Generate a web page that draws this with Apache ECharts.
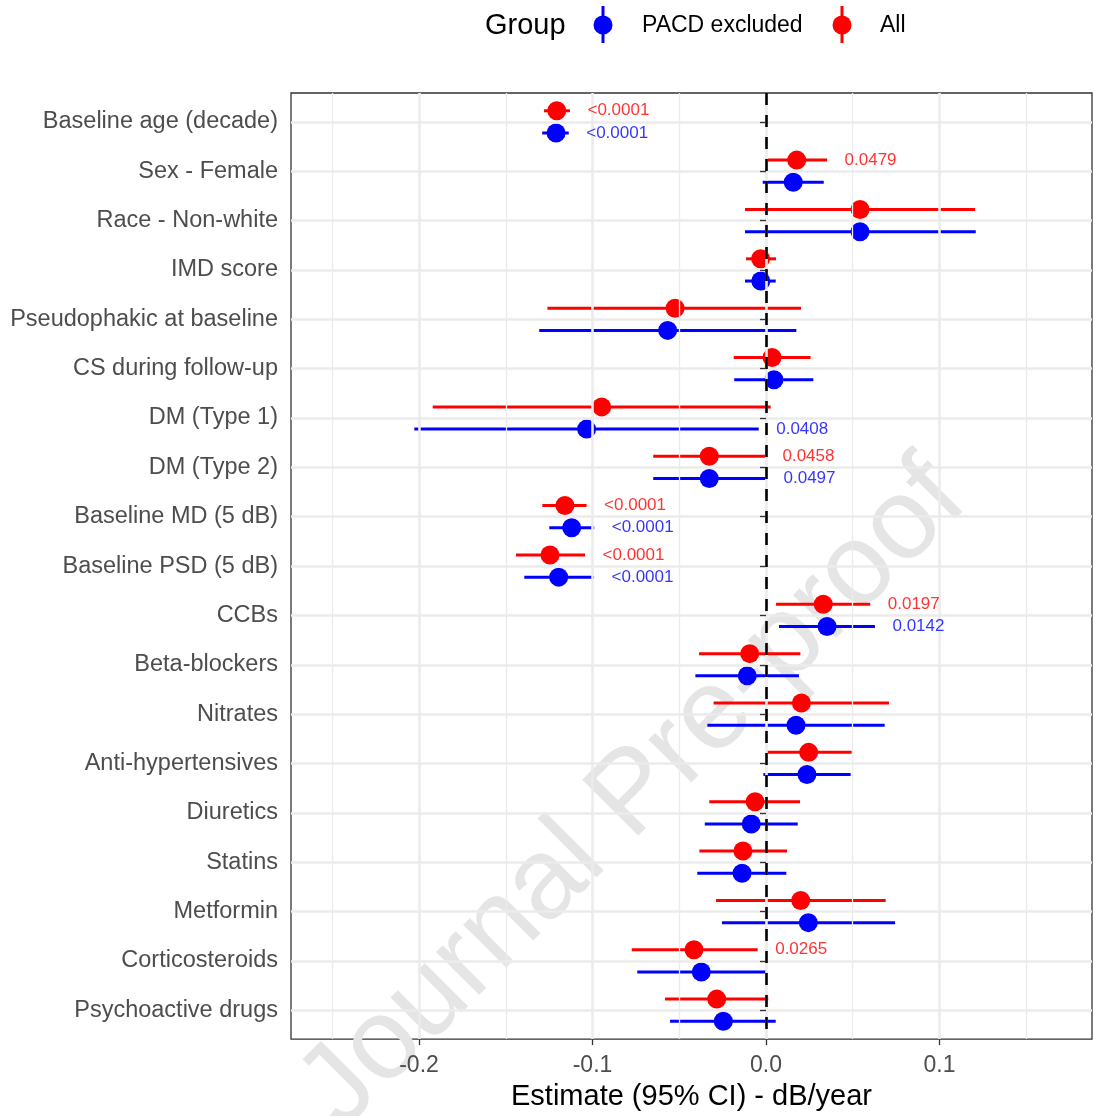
<!DOCTYPE html>
<html>
<head>
<meta charset="utf-8">
<script src="https://cdn.jsdelivr.net/npm/echarts@6/dist/echarts.min.js"></script>
<style>
  html, body { margin: 0; padding: 0; background: #fff; }
  #chart { width: 1093px; height: 1116px; }
</style>
</head>
<body>
<div id="chart"></div>
<script>
// ---- Data ----
const categories = [
  'Baseline age (decade)', 'Sex - Female', 'Race - Non-white', 'IMD score',
  'Pseudophakic at baseline', 'CS during follow-up', 'DM (Type 1)', 'DM (Type 2)',
  'Baseline MD (5 dB)', 'Baseline PSD (5 dB)', 'CCBs', 'Beta-blockers', 'Nitrates',
  'Anti-hypertensives', 'Diuretics', 'Statins', 'Metformin', 'Corticosteroids',
  'Psychoactive drugs'
];
// Group "All" (red)
const allEst = [-0.1206, 0.0177, 0.0542, -0.0031, -0.0524, 0.0035, -0.0947, -0.0327, -0.1159, -0.1245, 0.0330, -0.0094, 0.0204, 0.0246, -0.0063, -0.0133, 0.0200, -0.0415, -0.0284];
const allLo  = [-0.1280, 0.0008, -0.0121, -0.0115, -0.1260, -0.0186, -0.1921, -0.0650, -0.1289, -0.1441, 0.0058, -0.0386, -0.0302, 0.0000, -0.0327, -0.0384, -0.0288, -0.0774, -0.0582];
const allHi  = [-0.1130, 0.0352, 0.1205, 0.0058, 0.0202, 0.0257, 0.0027, -0.0006, -0.1034, -0.1043, 0.0601, 0.0198, 0.0709, 0.0494, 0.0196, 0.0121, 0.0690, -0.0048, 0.0013];
const allP   = ['<0.0001', '0.0479', '', '', '', '', '', '0.0458', '<0.0001', '<0.0001', '0.0197', '', '', '', '', '', '', '0.0265', ''];
// Group "PACD excluded" (blue)
const pacdEst = [-0.1210, 0.0157, 0.0542, -0.0030, -0.0567, 0.0046, -0.1034, -0.0327, -0.1120, -0.1195, 0.0352, -0.0108, 0.0173, 0.0236, -0.0085, -0.0138, 0.0244, -0.0373, -0.0246];
const pacdLo  = [-0.1290, -0.0019, -0.0121, -0.0121, -0.1307, -0.0183, -0.2027, -0.0650, -0.1249, -0.1393, 0.0075, -0.0407, -0.0338, -0.0015, -0.0353, -0.0396, -0.0254, -0.0742, -0.0553];
const pacdHi  = [-0.1137, 0.0333, 0.1209, 0.0056, 0.0175, 0.0273, -0.0042, 0.0000, -0.0990, -0.0991, 0.0628, 0.0190, 0.0684, 0.0488, 0.0183, 0.0117, 0.0744, 0.0000, 0.0056];
const pacdP   = ['<0.0001', '', '', '', '', '', '0.0408', '0.0497', '<0.0001', '<0.0001', '0.0142', '', '', '', '', '', '', '', ''];

const xTicks = [-0.2, -0.1, 0, 0.1];
const xMinorTicks = [-0.25, -0.15, -0.05, 0.05, 0.15];
const legendNames = ['PACD excluded', 'All'];

// ---- Build options ----
const FONT = 'Liberation Sans, Arial, Helvetica, sans-serif';
const RED = '#FF0000', BLUE = '#0000FF';
const DODGE = 0.225;
const rowPos = categories.map((_, i) => i + 1);

function pts(est, off) { return est.map((v, i) => [v, rowPos[i] + off]); }
function bars(lo, hi, off) { return lo.map((v, i) => [v, hi[i], rowPos[i] + off]); }
function labs(hi, p, off) {
  const out = [];
  p.forEach((t, i) => { if (t) out.push([hi[i], rowPos[i] + off, t]); });
  return out;
}

function errRender(color) {
  return function (params, api) {
    const y = api.value(2);
    const a = api.coord([api.value(0), y]);
    const b = api.coord([api.value(1), y]);
    return {
      type: 'line',
      shape: { x1: a[0], y1: a[1], x2: b[0], y2: b[1] },
      style: { stroke: color, lineWidth: 3, lineCap: 'butt' }
    };
  };
}

const gridLines = [];
xTicks.forEach(v => gridLines.push({ xAxis: v, lineStyle: { color: '#EBEBEB', width: 2.6, type: 'solid' } }));
xMinorTicks.forEach(v => gridLines.push({ xAxis: v, lineStyle: { color: '#EBEBEB', width: 1.3, type: 'solid' } }));
rowPos.forEach(v => gridLines.push({ yAxis: v, lineStyle: { color: '#EBEBEB', width: 2.6, type: 'solid' } }));

// Legend (drawn as graphic keys: point-range glyph + text)
function legendKey(cx, textX, color, name) {
  return [
    { type: 'line', z: 10, shape: { x1: cx, y1: 6, x2: cx, y2: 43 }, style: { stroke: color, lineWidth: 3 } },
    { type: 'circle', z: 10, shape: { cx: cx, cy: 25, r: 9.5 }, style: { fill: color } },
    { type: 'text', z: 10, x: textX, y: 26, style: { text: name, fontSize: 23, fill: '#000000', fontFamily: FONT, verticalAlign: 'middle', align: 'left' } }
  ];
}

const option = {
  animation: false,
  backgroundColor: '#ffffff',
  textStyle: { fontFamily: FONT },
  grid: {
    left: 291, right: 1, top: 93, bottom: 74, z: 0,
    show: true, borderColor: '#333333', borderWidth: 1.3, backgroundColor: '#ffffff'
  },
  graphic: [
    {
      type: 'text', x: 485, y: 26, z: 10,
      style: { text: 'Group', fontSize: 29, fill: '#000000', fontFamily: FONT, verticalAlign: 'middle' }
    },
    ...legendKey(603, 642, BLUE, legendNames[0]),
    ...legendKey(842, 880, RED, legendNames[1]),
    {
      type: 'text', x: 634, y: 795, rotation: 45 * Math.PI / 180, z: 1.5, zlevel: 0,
      silent: true,
      style: {
        text: 'Journal Pre-proof', fontSize: 115, fill: '#E5E5E5', fontFamily: FONT,
        align: 'center', verticalAlign: 'middle'
      }
    }
  ],
  xAxis: {
    type: 'value', z: 6,
    min: -0.27378, max: 0.18790,
    name: 'Estimate (95% CI) - dB/year',
    nameLocation: 'middle', nameGap: 41,
    nameTextStyle: { fontSize: 29, color: '#000000', fontFamily: FONT },
    axisLine: { show: false },
    axisTick: { show: true, customValues: xTicks, length: 6, lineStyle: { color: '#333333', width: 1.3 } },
    axisLabel: {
      customValues: xTicks, fontSize: 23, color: '#4D4D4D', margin: 15, fontFamily: FONT,
      formatter: v => Number(v).toFixed(1)
    },
    splitLine: { show: false }
  },
  yAxis: {
    type: 'value', inverse: true, z: 6,
    min: 0.415, max: 19.585,
    axisLine: { show: false },
    axisTick: { show: true, customValues: rowPos, length: 6, lineStyle: { color: '#333333', width: 1.3 } },
    axisLabel: {
      customValues: rowPos, fontSize: 23.5, color: '#4D4D4D', margin: 13, fontFamily: FONT,
      formatter: v => categories[Math.round(v) - 1] || ''
    },
    splitLine: { show: false }
  },
  series: [
    {
      name: 'grid', type: 'scatter', data: [], z: 1, silent: true,
      markLine: { silent: true, symbol: ['none', 'none'], label: { show: false }, animation: false, data: gridLines }
    },
    {
      name: 'zero', type: 'scatter', data: [], z: 2, silent: true,
      markLine: {
        silent: true, symbol: ['none', 'none'], label: { show: false }, animation: false,
        data: [{ xAxis: 0, lineStyle: { color: '#000000', width: 2.6, type: [12, 10] } }]
      }
    },
    {
      name: 'allErr', type: 'custom', z: 3, silent: true,
      renderItem: errRender(RED), encode: { x: [0, 1], y: 2 },
      data: bars(allLo, allHi, -DODGE)
    },
    {
      name: 'pacdErr', type: 'custom', z: 3, silent: true,
      renderItem: errRender(BLUE), encode: { x: [0, 1], y: 2 },
      data: bars(pacdLo, pacdHi, DODGE)
    },
    {
      name: legendNames[0], type: 'scatter', z: 4, symbol: 'circle', symbolSize: 19,
      itemStyle: { color: BLUE, opacity: 1 },
      data: pts(pacdEst, DODGE)
    },
    {
      name: legendNames[1], type: 'scatter', z: 4, symbol: 'circle', symbolSize: 19,
      itemStyle: { color: RED, opacity: 1 },
      data: pts(allEst, -DODGE)
    },
    {
      name: 'allLab', type: 'scatter', z: 5, symbol: 'circle', symbolSize: 1, silent: true,
      itemStyle: { color: 'rgba(0,0,0,0)' },
      label: {
        show: true, position: 'right', distance: 17, fontSize: 17, color: RED, fontFamily: FONT,
        formatter: p => p.value[2]
      },
      data: labs(allHi, allP, -DODGE)
    },
    {
      name: 'pacdLab', type: 'scatter', z: 5, symbol: 'circle', symbolSize: 1, silent: true,
      itemStyle: { color: 'rgba(0,0,0,0)' },
      label: {
        show: true, position: 'right', distance: 17, fontSize: 17, color: BLUE, fontFamily: FONT,
        formatter: p => p.value[2]
      },
      data: labs(pacdHi, pacdP, DODGE)
    }
  ]
};

const chart = echarts.init(document.getElementById('chart'), null, { renderer: 'canvas' });
chart.setOption(option);
</script>
</body>
</html>
